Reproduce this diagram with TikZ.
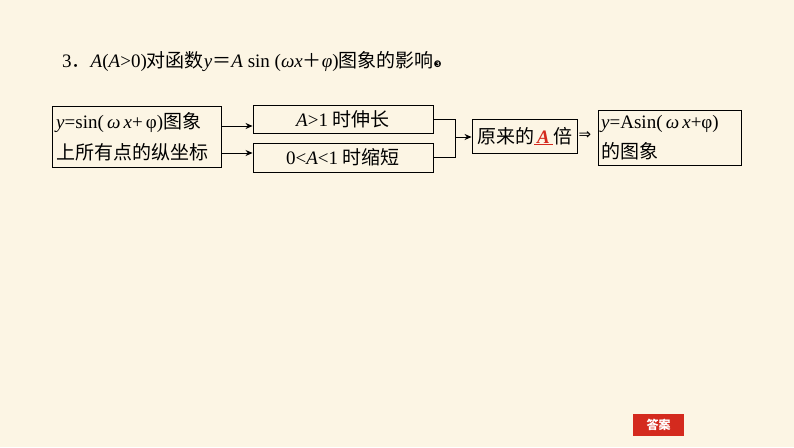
\documentclass[tikz,border=0pt]{standalone}
\usepackage{fontspec}
\setmainfont{Liberation Serif}
\newfontfamily\cjk{Noto Sans CJK SC}
\newfontfamily\dv{DejaVu Sans}
\definecolor{bg}{HTML}{FCF5E4}
\definecolor{ansred}{HTML}{D42A1E}
\usetikzlibrary{arrows.meta}
\tikzset{arr/.style={-{Stealth[length=7pt,width=6pt]},line width=0.8pt}}
\begin{document}
\begin{tikzpicture}[x=1pt,y=-1pt,font=\fontsize{19}{20}\selectfont]
\fill[bg] (0,0) rectangle (794,447);
\useasboundingbox (0,0) rectangle (794,447);
\node[anchor=west,inner sep=0] (title) at (62,62) {3{\cjk ．}\textit{A}(\textit{A}>0)\cjk 对函数\rmfamily\textit{y}{\cjk ＝}\textit{A} sin (\textit{ωx}{\cjk ＋}\textit{φ})\cjk 图象的影响\dv\fontsize{9}{9}\selectfont ❸};
\draw[line width=0.9pt] (52,106) rectangle (221,167);
\node[anchor=west,inner sep=0] (b1a) at (56,123) {\textit{y}=sin(\,\textit{ω}\,\textit{x}+\,φ)\cjk 图象};
\node[anchor=west,inner sep=0] (b1b) at (56,152) {\cjk 上所有点的纵坐标};
\coordinate (b1r1) at (221,126); \coordinate (b1r2) at (221,153);
\node[draw,line width=0.9pt,minimum width=180,minimum height=28,inner sep=0] (b2) at (343,119) {\textit{A}>1 \cjk 时伸长};
\node[draw,line width=0.9pt,minimum width=180,minimum height=29,inner sep=0] (b3) at (343,157.5) {0<\textit{A}<1 \cjk 时缩短};
\node[draw,line width=0.9pt,minimum width=105,minimum height=34,inner sep=0] (b4) at (524.5,136) {\cjk 原来的\rmfamily\textcolor{ansred}{\underline{\,\textbf{\textit{A}}\,}}\cjk 倍};
\node[anchor=west,inner sep=1pt] (imp) at (b4.east) {\dv\fontsize{15}{15}\selectfont ⇒};
\draw[line width=0.9pt] (598,110) rectangle (741,165);
\node[anchor=west,inner sep=0] (b5a) at (601,124) {\textit{y}=Asin(\,\textit{ω}\,\textit{x}+φ)};
\node[anchor=west,inner sep=0] (b5b) at (601,151) {\cjk 的图象};
\draw[arr] (b1r1) -- (b2.west|-b1r1);
\draw[arr] (b1r2) -- (b3.west|-b1r2);
\coordinate (j) at (455,137);
\draw[line width=0.8pt] (b2.east) -- (b2.east-|j) -- (b3.east-|j) -- (b3.east);
\draw[arr] (j) -- (b4.west|-j);
\node[fill=ansred,text=white,minimum width=51,minimum height=22,inner sep=0,font=\cjk\fontsize{12}{12}\selectfont\bfseries] (ans) at (658.5,425) {答案};
\end{tikzpicture}
\end{document}
